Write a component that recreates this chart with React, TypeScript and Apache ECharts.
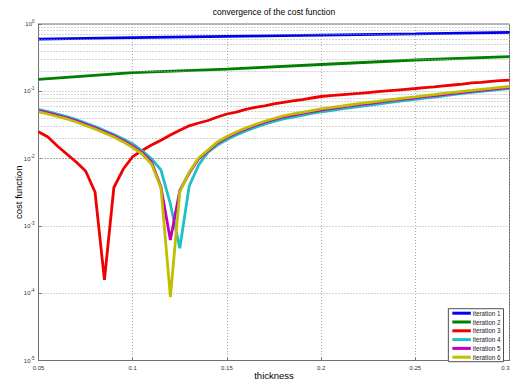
import React, { useEffect, useRef } from "react";
import * as echarts from "echarts";

const titleText = "convergence of the cost function";
const xName = "thickness";
const yName = "cost function";
const seriesNames = ["iteration 1", "iteration 2", "iteration 3", "iteration 4", "iteration 5", "iteration 6"];
const seriesColors = ["#0000f0", "#008000", "#f00000", "#1fc0c0", "#c000c0", "#bfbf00"];

// sparse samples for the two nearly straight curves
const coarseThickness = [0.05, 0.1, 0.15, 0.2, 0.25, 0.3];
const iteration1 = [0.598, 0.628, 0.657, 0.685, 0.712, 0.752];
const iteration2 = [0.150, 0.189, 0.214, 0.25, 0.292, 0.327];

// fine samples (step 0.005)
const thickness = [
  0.05, 0.055, 0.06, 0.065, 0.07, 0.075, 0.08, 0.085, 0.09, 0.095,
  0.1, 0.105, 0.11, 0.115, 0.12, 0.125, 0.13, 0.135, 0.14, 0.145,
  0.15, 0.155, 0.16, 0.165, 0.17, 0.175, 0.18, 0.185, 0.19, 0.195,
  0.2, 0.205, 0.21, 0.215, 0.22, 0.225, 0.23, 0.235, 0.24, 0.245,
  0.25, 0.255, 0.26, 0.265, 0.27, 0.275, 0.28, 0.285, 0.29, 0.295, 0.3,
];
const iteration3 = [
  0.0251, 0.0209, 0.0154, 0.0117, 0.0089, 0.00654, 0.00319, 0.000158, 0.00372, 0.007,
  0.0107, 0.0132, 0.0159, 0.0188, 0.0224, 0.0263, 0.0307, 0.0338, 0.0368, 0.0415,
  0.046, 0.0492, 0.0537, 0.0575, 0.0605, 0.0648, 0.0682, 0.0718, 0.0755, 0.0795,
  0.0837, 0.0861, 0.0885, 0.0909, 0.0933, 0.0959, 0.0986, 0.1014, 0.1042, 0.1071,
  0.11, 0.113, 0.116, 0.12, 0.124, 0.128, 0.133, 0.136, 0.14, 0.144, 0.147,
];
const iteration4 = [
  0.0537, 0.0501, 0.046, 0.0422, 0.0381, 0.0338, 0.03, 0.0262, 0.0228, 0.0196,
  0.0165, 0.013, 0.0099, 0.00677, 0.00212, 0.000465, 0.00392, 0.00803, 0.0125, 0.0159,
  0.0192, 0.0224, 0.0257, 0.029, 0.0325, 0.0356, 0.0388, 0.0415, 0.044, 0.0468,
  0.0493, 0.0517, 0.0542, 0.0567, 0.0592, 0.0619, 0.0645, 0.0675, 0.0703, 0.0733,
  0.076, 0.0793, 0.0823, 0.0857, 0.0893, 0.0928, 0.0963, 0.0997, 0.1031, 0.1067, 0.11,
];
const iteration5 = [
  0.0513, 0.0479, 0.044, 0.0404, 0.0365, 0.0323, 0.0287, 0.025, 0.0218, 0.0184,
  0.0153, 0.0123, 0.0089, 0.00378, 0.000617, 0.00336, 0.00611, 0.00987, 0.013, 0.0171,
  0.0206, 0.024, 0.0275, 0.031, 0.0347, 0.0381, 0.0415, 0.0444, 0.0471, 0.0501,
  0.0527, 0.0553, 0.0578, 0.0605, 0.0632, 0.0659, 0.0687, 0.0715, 0.0743, 0.0771,
  0.0801, 0.0831, 0.0863, 0.0896, 0.0931, 0.0963, 0.0997, 0.1031, 0.1067, 0.1104, 0.1139,
];
const iteration6 = [
  0.0493, 0.046, 0.0422, 0.0388, 0.035, 0.031, 0.0275, 0.024, 0.0209, 0.0177,
  0.0146, 0.0117, 0.0083, 0.00366, 0.0000878, 0.00322, 0.00632, 0.0102, 0.0134, 0.0177,
  0.0213, 0.0249, 0.0285, 0.0321, 0.0359, 0.0394, 0.043, 0.046, 0.0488, 0.0518,
  0.0546, 0.0572, 0.0599, 0.0626, 0.0654, 0.0682, 0.071, 0.074, 0.0768, 0.0798,
  0.0828, 0.086, 0.0893, 0.0928, 0.0963, 0.0997, 0.1031, 0.1067, 0.1104, 0.1143, 0.1178,
];

const yExponents = [-5, -4, -3, -2, -1, 0];
const minorMultipliers = [2, 3, 4, 5, 6, 7, 8, 9];

const FONT = "'Liberation Sans', Arial, sans-serif";

function pairs(xs: number[], ys: number[]) {
  return ys.map((y, i) => [xs[i], y]);
}

export default function App() {
  const ref = useRef<HTMLDivElement>(null);
  useEffect(() => {
    const chart = echarts.init(ref.current!, null, { renderer: "svg" });
    const minorLines: any[] = [];
    yExponents.slice(0, -1).forEach((e) => {
      minorMultipliers.forEach((m) => minorLines.push({ yAxis: m * Math.pow(10, e) }));
    });
    const dotted = { type: [1, 2] as any, color: "#ababab", width: 1 };
    const allData = [
      pairs(coarseThickness, iteration1),
      pairs(coarseThickness, iteration2),
      pairs(thickness, iteration3),
      pairs(thickness, iteration4),
      pairs(thickness, iteration5),
      pairs(thickness, iteration6),
    ];
    const series: any[] = [
      {
        name: "_grid",
        type: "line",
        data: [],
        silent: true,
        markLine: {
          silent: true,
          symbol: ["none", "none"],
          label: { show: false },
          lineStyle: dotted,
          data: minorLines,
          animation: false,
        },
      },
    ];
    seriesNames.forEach((name, i) => {
      series.push({
        name,
        type: "line",
        data: allData[i],
        showSymbol: false,
        symbol: "none",
        lineStyle: { color: seriesColors[i], width: 2.8 },
        itemStyle: { color: seriesColors[i] },
        z: 3 + i,
      });
    });
    chart.setOption({
      animation: false,
      backgroundColor: "#ffffff",
      textStyle: { fontFamily: FONT },
      grid: {
        left: 38.5,
        right: 1.5,
        top: 24,
        bottom: 24.5,
        containLabel: false,
        outerBoundsMode: "none",
        show: true,
        borderColor: "#707070",
        borderWidth: 1,
        backgroundColor: "#ffffff",
      },
      graphic: [
        {
          type: "text",
          x: 274,
          y: 12,
          style: {
            text: titleText,
            fill: "#000",
            font: `8.5px ${FONT}`,
            align: "center",
            verticalAlign: "middle",
          },
        },
      ],
      legend: {
        data: seriesNames,
        orient: "vertical",
        right: 7.5,
        bottom: 23.3,
        backgroundColor: "#ffffff",
        borderColor: "#505050",
        borderWidth: 1,
        padding: [1, 3, 1, 4],
        itemWidth: 18.5,
        itemHeight: 3,
        itemGap: 1.8,
        icon: "rect",
        selectedMode: false,
        textStyle: { fontSize: 6.3, color: "#222", lineHeight: 7, padding: [0, 0, 0, -3] },
      },
      xAxis: {
        type: "value",
        min: 0.05,
        max: 0.3,
        interval: 0.05,
        name: xName,
        nameLocation: "middle",
        nameGap: 9.5,
        nameMoveOverlap: false,
        nameTextStyle: { fontSize: 9.5, color: "#000", fontFamily: FONT },
        axisLine: { show: true, lineStyle: { color: "#707070" } },
        axisTick: { show: true, inside: true, length: 3, lineStyle: { color: "#707070" } },
        axisLabel: {
          fontSize: 6,
          color: "#333",
          margin: 4,
          formatter: (v: number) => String(Number(v.toFixed(2))),
          showMaxLabel: true,
          showMinLabel: true,
          alignMaxLabel: "right",
        },
        splitLine: { show: true, lineStyle: dotted },
      },
      yAxis: {
        type: "log",
        logBase: 10,
        min: 1e-5,
        max: 1,
        name: yName,
        nameLocation: "middle",
        nameGap: 15.5,
        nameMoveOverlap: false,
        nameTextStyle: { fontSize: 9.5, color: "#000", fontFamily: FONT },
        axisLine: { show: true, lineStyle: { color: "#707070" } },
        axisTick: { show: true, inside: true, length: 3, lineStyle: { color: "#707070" } },
        axisLabel: {
          margin: 4,
          formatter: (v: number) => {
            const e = Math.round(Math.log10(v));
            return `{b|10}{e|${e}}`;
          },
          rich: {
            b: { fontSize: 6, color: "#333", fontFamily: FONT },
            e: { fontSize: 4.5, color: "#333", fontFamily: FONT, padding: [0, 0, 5, 0] },
          },
        },
        splitLine: { show: true, lineStyle: dotted },
      },
      series,
    });
    return () => chart.dispose();
  }, []);
  return (
    <div
      ref={ref}
      style={{ position: "absolute", left: 0, top: 0, width: 511, height: 385 }}
    />
  );
}
